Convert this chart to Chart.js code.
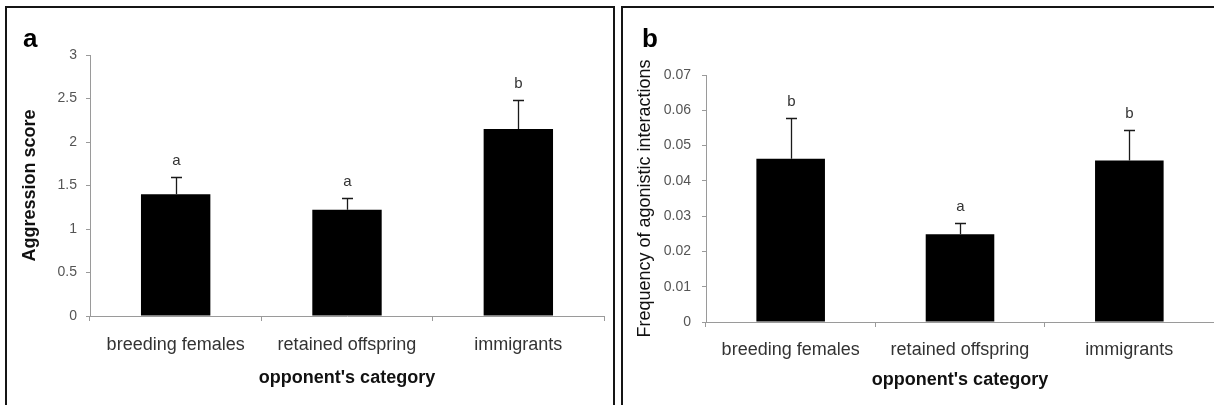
<!DOCTYPE html>
<html><head><meta charset="utf-8">
<script src="https://cdn.jsdelivr.net/npm/chart.js@4"></script>
<style>
html,body{margin:0;padding:0;background:#fff;overflow:hidden;width:1214px;height:405px;position:relative;}
.wrap{position:absolute;top:0;height:405px;}
#wa{left:0;width:615px;}
#wb{left:615px;width:599px;}
.frame{position:absolute;border:2px solid #151515;border-bottom:none;box-sizing:border-box;pointer-events:none;}
#fa{left:5px;top:6px;width:610px;height:420px;}
#fb{left:621px;top:6px;width:640px;height:420px;border-right:none;}
.plabel{position:absolute;font:bold 26px "Liberation Sans",Arial,sans-serif;line-height:26px;color:#000;}
</style>
</head><body>
<div class="wrap" id="wa"><canvas id="ca" width="615" height="405"></canvas></div>
<div class="wrap" id="wb"><canvas id="cb" width="599" height="405"></canvas></div>
<div class="frame" id="fa"></div>
<div class="frame" id="fb"></div>
<div class="plabel" style="left:23px;top:25px;">a</div>
<div class="plabel" style="left:642px;top:25px;">b</div>
<script>
const FONT = '"Liberation Sans", Arial, sans-serif';

const categories = ['breeding females', 'retained offspring', 'immigrants'];

const aggressionMeans = [1.40, 1.22, 2.15];
const aggressionSE = [0.20, 0.14, 0.33];
const aggressionLetters = ['a', 'a', 'b'];
const aggressionTicks = [0, 0.5, 1, 1.5, 2, 2.5, 3];

const freqMeans = [0.0463, 0.0249, 0.0458];
const freqSE = [0.0116, 0.0032, 0.0085];
const freqLetters = ['b', 'a', 'b'];
const freqTicks = [0, 0.01, 0.02, 0.03, 0.04, 0.05, 0.06, 0.07];

const errorBarPlugin = {
  id: 'errbars',
  afterDatasetsDraw(chart, args, opts) {
    const ctx = chart.ctx;
    const y = chart.scales.y;
    const meta = chart.getDatasetMeta(0);
    const vals = chart.data.datasets[0].data;
    ctx.save();
    meta.data.forEach((bar, i) => {
      const xc = Math.round(bar.x) + 0.5;
      const yBase = y.getPixelForValue(vals[i]);
      const yTop = Math.round(y.getPixelForValue(vals[i] + opts.errors[i])) + 0.5;
      ctx.strokeStyle = '#1a1a1a';
      ctx.lineWidth = 1.3;
      ctx.beginPath();
      ctx.moveTo(xc, yBase);
      ctx.lineTo(xc, yTop);
      ctx.moveTo(xc - 5.5, yTop);
      ctx.lineTo(xc + 5.5, yTop);
      ctx.stroke();
      ctx.fillStyle = '#333';
      ctx.font = '15px ' + FONT;
      ctx.textAlign = 'center';
      ctx.textBaseline = 'middle';
      ctx.fillText(opts.letters[i], xc, yTop - 17);
    });
    ctx.restore();
  }
};

function makeChart(canvasId, cfg) {
  return new Chart(document.getElementById(canvasId), {
    type: 'bar',
    data: {
      labels: categories,
      datasets: [{
        data: cfg.values,
        backgroundColor: '#000',
        borderColor: '#222',
        borderWidth: 0,
        categoryPercentage: 1.0,
        barPercentage: 0.405
      }]
    },
    plugins: [errorBarPlugin],
    options: {
      responsive: false,
      animation: false,
      devicePixelRatio: 1,
      layout: { padding: cfg.padding },
      plugins: {
        legend: { display: false },
        tooltip: { enabled: false },
        errbars: { errors: cfg.errors, letters: cfg.letters }
      },
      scales: {
        x: {
          grid: { display: true, drawOnChartArea: false, drawTicks: true, tickLength: 5, offset: true, color: '#9a9a9a', tickColor: '#9a9a9a' },
          border: { display: true, color: '#9a9a9a', width: 1 },
          ticks: { color: '#333', font: { family: FONT, size: 18 }, padding: cfg.xTickPad, maxRotation: 0, autoSkip: false },
          title: { display: true, text: "opponent's category", color: '#111', font: { family: FONT, size: 18, weight: 'bold' }, padding: { top: 0, bottom: cfg.xTitlePad } },
          afterFit(s) { s.height = cfg.xHeight; }
        },
        y: {
          min: 0,
          max: cfg.ticks[cfg.ticks.length - 1],
          afterBuildTicks(s) { s.ticks = cfg.ticks.map(v => ({ value: v })); },
          grid: { display: true, drawOnChartArea: false, drawTicks: true, tickLength: 4, color: '#9a9a9a', tickColor: '#9a9a9a' },
          border: { display: true, color: '#9a9a9a', width: 1 },
          ticks: { color: '#555', font: { family: FONT, size: cfg.yTickSize }, padding: cfg.yTickPad, callback: v => String(+v.toFixed(4)) },
          title: { display: true, text: cfg.yTitle, color: '#111', font: { family: FONT, size: cfg.yTitleSize, weight: cfg.yTitleWeight }, padding: { top: 9, bottom: 0 } },
          afterFit(s) { s.width = cfg.yWidth; }
        }
      }
    }
  });
}

makeChart('ca', {
  values: aggressionMeans,
  errors: aggressionSE,
  letters: aggressionLetters,
  ticks: aggressionTicks,
  padding: { left: 10, top: 55, right: 11, bottom: 0 },
  yWidth: 80,
  xHeight: 89,
  xTickPad: 13,
  xTitlePad: 16,
  yTickSize: 14,
  yTickPad: 9,
  yTitle: 'Aggression score',
  yTitleSize: 18,
  yTitleWeight: 'bold'
});

makeChart('cb', {
  values: freqMeans,
  errors: freqSE,
  letters: freqLetters,
  ticks: freqTicks,
  padding: { left: 10, top: 75, right: 0, bottom: 0 },
  yWidth: 81,
  xHeight: 83,
  xTickPad: 12,
  xTitlePad: 14,
  yTickSize: 14,
  yTickPad: 11,
  yTitle: 'Frequency of agonistic interactions',
  yTitleSize: 18,
  yTitleWeight: 'normal'
});
</script>
</body></html>
